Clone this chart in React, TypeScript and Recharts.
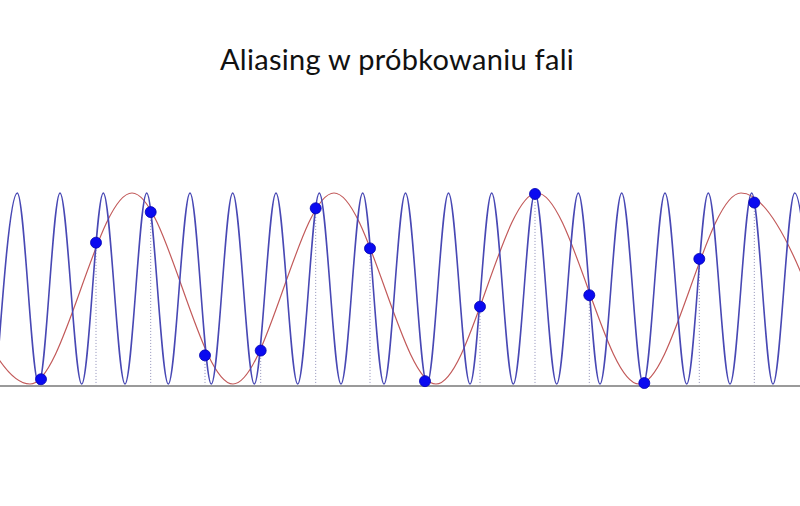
import { ComposedChart, Line, Scatter, XAxis, YAxis, ReferenceLine } from "recharts";

// fala o wysokiej częstotliwości (niebieska) – położenia grzbietów i dolin
const bluePeaksX = [
  17.3, 60, 103.3, 146.7, 190, 232.7, 276, 319.3, 362.7, 405.5, 448.5, 491.7, 535, 578.3,
  621.7, 665, 708.3, 751.7, 794.7,
];
const blueTroughsX = [
  -4, 38.7, 81.7, 125, 168.3, 211.3, 254.3, 297.7, 341, 384, 427, 470, 513.3, 556.7, 600,
  643.3, 686.7, 730, 773, 816,
];

// fala pozorna (czerwona) – grzbiety i doliny
const redPeaksX = [-71, 132, 334, 537, 741];
const redTroughsX = [30, 233, 436, 639, 843];

// próbki
const sampleX = [41, 96, 150.7, 205, 260.7, 315.7, 370, 425, 480, 535, 589.3, 644.3, 699.3, 754.3];
const sampleValue = [-0.95, 0.48, 0.8, -0.7, -0.65, 0.84, 0.42, -0.97, -0.19, 0.99, -0.07, -0.99, 0.31, 0.9];

const baseLevel = -1.02;

const toWave = (peaks: number[], troughs: number[]) =>
  [...peaks.map((x) => ({ x, v: 1 })), ...troughs.map((x) => ({ x, v: -1 }))].sort((a, b) => a.x - b.x);

const blueData = toWave(bluePeaksX, blueTroughsX);
const redData = toWave(redPeaksX, redTroughsX);
const samples = sampleX.map((x, i) => ({ x, v: sampleValue[i] }));

const Dot = (props: any) => {
  const { cx, cy } = props;
  return <circle cx={cx} cy={cy} r={5.5} fill="#0a0af0" stroke="#0000b0" strokeWidth={0.8} />;
};

export default function App() {
  return (
    <div style={{ position: "absolute", left: 0, top: 0, width: 800, height: 506, background: "#fff" }}>
      <div
        style={{
          position: "absolute",
          top: 44,
          left: -3,
          width: 800,
          textAlign: "center",
          fontFamily: "Lato, sans-serif",
          fontSize: 29,
          letterSpacing: 0.3,
          lineHeight: "29px",
          color: "#111",
        }}
      >
        Aliasing w próbkowaniu fali
      </div>
      <ComposedChart width={800} height={506} margin={{ top: 193, right: 0, bottom: 122, left: 0 }}>
        <XAxis type="number" dataKey="x" domain={[0, 800]} allowDataOverflow hide />
        <YAxis type="number" domain={[-1, 1]} hide />
        {samples.map((s, i) => (
          <ReferenceLine
            key={`s-${i}`}
            segment={[
              { x: s.x, y: baseLevel },
              { x: s.x, y: s.v },
            ]}
            stroke="#8f8fb8"
            strokeDasharray="1 2"
            ifOverflow="visible"
          />
        ))}
        <ReferenceLine y={baseLevel} stroke="#9a9a9a" strokeWidth={2} ifOverflow="visible" />
        <Line
          data={redData}
          dataKey="v"
          type="monotone"
          stroke="#c25a5a"
          strokeWidth={1.2}
          dot={false}
          isAnimationActive={false}
        />
        <Line
          data={blueData}
          dataKey="v"
          type="monotone"
          stroke="#4848b4"
          strokeWidth={1.6}
          dot={false}
          isAnimationActive={false}
        />
        <Scatter data={samples} dataKey="v" shape={<Dot />} isAnimationActive={false} />
      </ComposedChart>
    </div>
  );
}
